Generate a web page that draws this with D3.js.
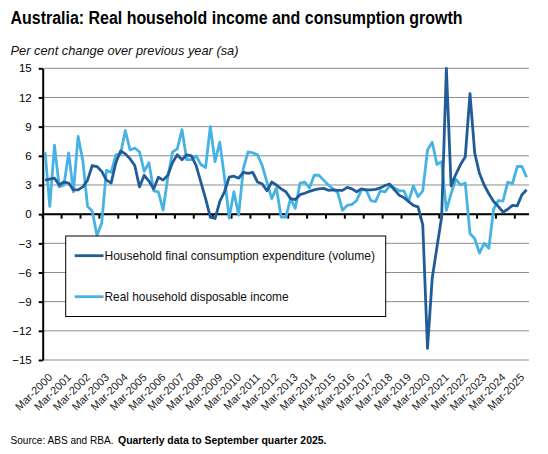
<!DOCTYPE html>
<html>
<head>
<meta charset="utf-8">
<script src="https://cdn.jsdelivr.net/npm/d3@7"></script>
<style>
  html, body { margin: 0; padding: 0; background: #fff; }
  svg { display: block; }
  text { font-family: "Liberation Sans", Arial, sans-serif; }
</style>
</head>
<body>
<div id="chart"></div>
<script>
// ---------------- Data ----------------
const titleText = "Australia: Real household income and consumption growth";
const subtitleText = "Per cent change over previous year (sa)";
const sourceText = "Source: ABS and RBA.";
const sourceBold = "Quarterly data to September quarter 2025.";

const monthNames = ["Mar", "Jun", "Sep", "Dec"];
const firstYear = 2000;
const lastYear = 2025;
const lastQuarterIdx = 2; // Sep-2025

// Household final consumption expenditure (volume), % y/y
const hfce = [
  3.5, 3.6, 3.7, 3.0, 3.3, 3.2, 2.5, 2.5, 2.8, 3.5,
  5.0, 4.9, 4.4, 3.5, 3.2, 5.3, 6.5, 6.2, 5.7, 5.0,
  2.8, 4.0, 3.4, 2.6, 3.8, 3.5, 4.0, 5.3, 6.1, 5.6,
  6.1, 6.0, 5.0, 3.3, 1.6, -0.3, -0.45, 1.3, 2.3, 3.8,
  3.9, 3.7, 4.3, 4.2, 4.3, 3.3, 3.1, 2.4, 3.3, 3.0,
  2.6, 2.3, 1.6, 1.5, 2.0, 2.15, 2.35, 2.5, 2.6, 2.65,
  2.45, 2.5, 2.45, 2.45, 2.75, 2.6, 2.3, 2.6, 2.5, 2.5,
  2.55, 2.7, 2.95, 3.1, 2.5, 1.95, 1.7, 1.3, 0.9, 0.75,
  -1.1, -13.8, -6.6, -3.4, -0.3, 15.0, 2.9, 4.1, 5.1, 5.9,
  12.4, 6.3, 4.2, 3.0, 2.1, 1.3, 0.8, 0.2, 0.5, 0.9,
  0.85, 2.0, 2.5
];

// Real household disposable income, % y/y
const rhdi = [
  6.4, 0.8, 7.1, 2.8, 3.0, 6.3, 2.3, 8.0, 5.5, 0.8,
  0.3, -2.2, -0.9, 4.5, 4.3, 6.1, 6.2, 8.6, 6.6, 6.8,
  6.4, 4.4, 5.3, 2.4, 2.3, 0.4, 3.8, 6.4, 6.7, 8.7,
  5.6, 5.6, 6.0, 5.1, 4.8, 9.0, 5.4, 7.4, 3.8, -0.4,
  2.3, -0.1, 4.7, 6.4, 6.3, 6.1, 5.0, 3.3, 1.6, 2.7,
  -0.3, -0.3, 1.6, 0.6, 3.2, 3.3, 2.7, 4.0, 4.0, 3.5,
  3.0, 2.6, 2.2, 0.4, 0.9, 1.0, 1.4, 2.5, 2.5, 1.4,
  1.3, 2.4, 2.3, 2.9, 2.7, 2.4, 2.4, 1.3, 2.9, 1.8,
  2.4, 6.6, 7.4, 5.1, 5.4, 0.4, 2.1, 3.6, 3.0, 3.2,
  -2.0, -2.5, -4.0, -3.0, -3.5, 0.5, 1.4, 1.35, 3.3, 3.15,
  4.9, 4.9, 3.8
];

const seriesNames = [
  "Household final consumption expenditure (volume)",
  "Real household disposable income"
];
const yTicks = [15, 12, 9, 6, 3, 0, -3, -6, -9, -12, -15];

// categories (quarters)
const quarters = [];
for (let yr = firstYear; yr <= lastYear; yr++) {
  monthNames.forEach((m, qi) => {
    if (yr === lastYear && qi > lastQuarterIdx) return;
    quarters.push(m + "-" + yr);
  });
}
const xLabels = quarters.filter(q => q.startsWith("Mar-"));

// ---------------- Layout ----------------
const W = 548, H = 454;
const plotL = 42.7, plotR = 529, plotT = 68.3, plotB = 360;
const colDark = "#215C99";
const colLight = "#47B3E3";

const svg = d3.select("#chart").append("svg")
  .attr("width", W).attr("height", H);

const x = d3.scaleBand().domain(quarters).range([plotL, plotR]).padding(0);
const xc = q => x(q) + x.bandwidth() / 2;
const y = d3.scaleLinear().domain([-15, 15]).range([plotB, plotT]);

// Title
svg.append("text")
  .attr("x", 10.5).attr("y", 24)
  .attr("font-family", "Lato, 'Liberation Sans', sans-serif")
  .attr("font-weight", 700).attr("font-size", 17.5)
  .attr("textLength", 452).attr("lengthAdjust", "spacingAndGlyphs")
  .attr("fill", "#000")
  .text(titleText);

svg.append("text")
  .attr("x", 10.5).attr("y", 55)
  .attr("font-style", "italic").attr("font-size", 13.5)
  .attr("textLength", 228).attr("lengthAdjust", "spacingAndGlyphs")
  .attr("fill", "#111")
  .text(subtitleText);

// Gridlines
svg.append("g").selectAll("line").data(yTicks).join("line")
  .attr("x1", plotL).attr("x2", plotR)
  .attr("y1", d => y(d)).attr("y2", d => y(d))
  .attr("stroke", "#8c8c8c").attr("stroke-width", 1);

// Y axis
const yAxis = d3.axisLeft(y).tickValues(yTicks).tickSize(4).tickPadding(7).tickSizeOuter(0);
const gy = svg.append("g").attr("transform", `translate(${plotL},0)`).call(yAxis);
gy.select(".domain").attr("stroke", "#000").attr("stroke-width", 2);
gy.selectAll(".tick line").attr("stroke", "#000").attr("stroke-width", 2);
gy.selectAll(".tick text").attr("font-size", 11.5).attr("fill", "#000")
  .attr("font-family", "'Liberation Sans', Arial, sans-serif");

// X axis at zero
const tickQs = quarters.filter((q, i) => i % 4 === 0);
const gx = svg.append("g");
gx.append("line")
  .attr("x1", plotL).attr("x2", plotR)
  .attr("y1", y(0)).attr("y2", y(0))
  .attr("stroke", "#000").attr("stroke-width", 2);
gx.selectAll("line.tk").data(tickQs).join("line").attr("class", "tk")
  .attr("x1", d => x(d)).attr("x2", d => x(d))
  .attr("y1", y(0)).attr("y2", y(0) + 4.5)
  .attr("stroke", "#000").attr("stroke-width", 2);

// X labels at bottom
svg.append("g").selectAll("text").data(xLabels).join("text")
  .attr("transform", d => `translate(${xc(d) + 8},378) rotate(-45)`)
  .attr("text-anchor", "end")
  .attr("font-size", 11).attr("fill", "#222")
  .text(d => d);

// Lines
const line = d3.line().x((d, i) => xc(quarters[i])).y(d => y(d));
svg.append("path").datum(rhdi)
  .attr("d", line).attr("fill", "none")
  .attr("stroke", colLight).attr("stroke-width", 2.8)
  .attr("stroke-linejoin", "round");
svg.append("path").datum(hfce)
  .attr("d", line).attr("fill", "none")
  .attr("stroke", colDark).attr("stroke-width", 2.8)
  .attr("stroke-linejoin", "round");

// Legend
const lg = svg.append("g");
lg.append("rect")
  .attr("x", 65.7).attr("y", 236).attr("width", 320).attr("height", 80.5)
  .attr("fill", "#fff").attr("stroke", "#000").attr("stroke-width", 1);
const legendItems = [
  { name: seriesNames[0], color: colDark, cy: 255.7, len: 270.5 },
  { name: seriesNames[1], color: colLight, cy: 296.7, len: 184 }
];
legendItems.forEach(it => {
  lg.append("line")
    .attr("x1", 74.7).attr("x2", 103.5).attr("y1", it.cy).attr("y2", it.cy)
    .attr("stroke", it.color).attr("stroke-width", 2.8);
  lg.append("text")
    .attr("x", 104.5).attr("y", it.cy + 4.6)
    .attr("font-size", 13).attr("fill", "#111")
    .attr("textLength", it.len).attr("lengthAdjust", "spacingAndGlyphs")
    .text(it.name);
});

// Source
svg.append("text")
  .attr("x", 10.5).attr("y", 444)
  .attr("font-size", 11).attr("fill", "#000")
  .attr("textLength", 103).attr("lengthAdjust", "spacingAndGlyphs")
  .text(sourceText);
svg.append("text")
  .attr("x", 118).attr("y", 444)
  .attr("font-size", 11).attr("font-weight", 700).attr("fill", "#000")
  .attr("textLength", 208.5).attr("lengthAdjust", "spacingAndGlyphs")
  .text(sourceBold);
</script>
</body>
</html>
